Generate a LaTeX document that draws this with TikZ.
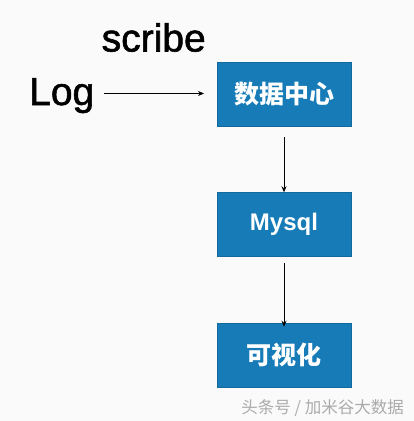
\documentclass[tikz,border=0pt]{standalone}
\usepackage{fontspec}
\setmainfont{Liberation Sans}
\newfontfamily\cjk{Noto Sans CJK SC}
\newfontfamily\heavysans[FakeBold=1.5]{Liberation Sans}
\usetikzlibrary{arrows.meta}
\definecolor{boxblue}{HTML}{167BB7}
\definecolor{bgc}{HTML}{FAFAFA}
\definecolor{wmgray}{HTML}{ABABAB}
\tikzset{
  x=1pt, y=-1pt,
  bluebox/.style={fill=boxblue, draw=boxblue!85!black, line width=0.5pt, minimum width=134pt, minimum height=64pt, inner sep=0pt, text=white, font=\bfseries},
  link/.style={-{Stealth[length=6pt,width=5pt]}, line width=0.8pt, black},
  bigword/.style={anchor=base west, inner sep=0pt, font=\heavysans\fontsize{39}{39}\selectfont},
}
\begin{document}
\begin{tikzpicture}
\fill[bgc] (0,0) rectangle (414,421);
\useasboundingbox (0,0) rectangle (414,421);
\node[bluebox, font=\cjk\bfseries\fontsize{25}{25}\selectfont] (dc) at (284,94) {数据中心};
\node[bluebox, font=\bfseries\fontsize{24}{24}\selectfont] (my) at (284,224.5) {Mysql};
\node[bluebox, font=\cjk\bfseries\fontsize{25}{25}\selectfont] (vis) at (284,355) {可视化};
\node[bigword] (log) at (29,105) {Log};
\node[bigword] (scr) at (101.5,51.5) {scribe};
\coordinate (a1s) at (104,93.5);
\coordinate (a1e) at (204,93.5);
\draw[link] (a1s) -- (a1e);
\draw[link] ([yshift=-11pt]dc.south) -- (my.north);
\draw[link] ([yshift=-6pt]my.south) -- ([yshift=-4pt]vis.north);
\node[anchor=base east, inner sep=0pt, text=wmgray, font=\cjk\fontsize{16.5}{16.5}\selectfont] (wm) at (404,413) {头条号 / 加米谷大数据};
\end{tikzpicture}
\end{document}
